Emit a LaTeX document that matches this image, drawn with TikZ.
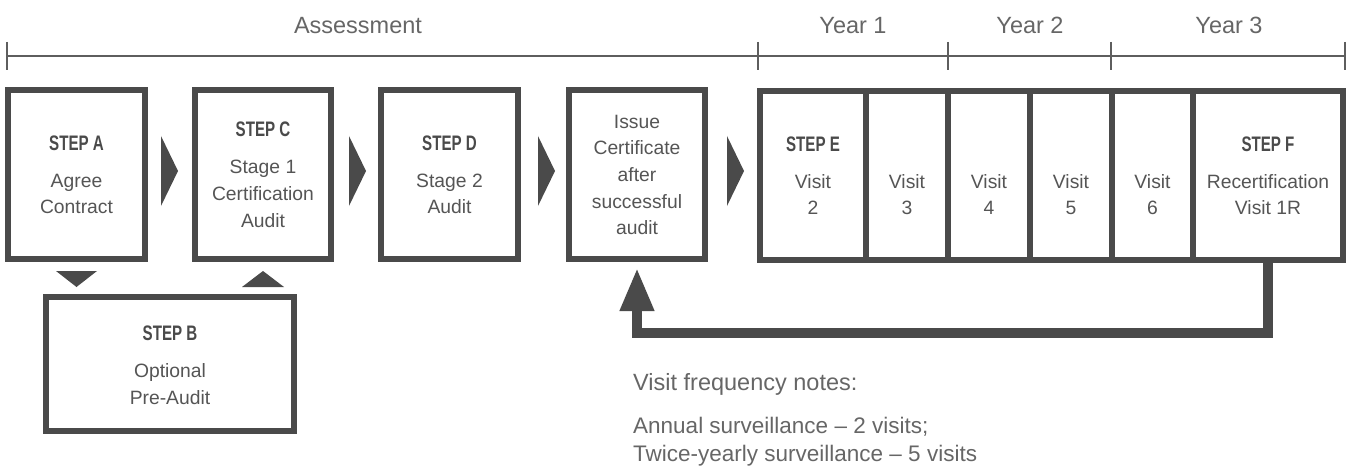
\documentclass[tikz,border=0pt]{standalone}
\usepackage{fontspec}
\setmainfont{Liberation Sans}
\newfontfamily\stepfamily[FakeStretch=0.72]{Liberation Sans}
\usetikzlibrary{arrows.meta,calc}
\definecolor{dg}{HTML}{4A4A4A}
\definecolor{tg}{HTML}{555555}
\definecolor{hg}{HTML}{666666}
\definecolor{lg}{HTML}{5E5E5E}
\newcommand\bodyf{\fontsize{19.3}{23}\selectfont}
\newcommand\stepf{\stepfamily\bfseries\fontsize{21}{25}\selectfont}
\newcommand\headf{\fontsize{23.5}{28}\selectfont}
\newcommand\notef{\fontsize{22.5}{28}\selectfont}
\tikzset{
  box/.style={draw=dg, line width=6pt, fill=white, inner sep=0pt, outer sep=0pt, rectangle},
  lbl/.style={text=tg, font=\bodyf, anchor=base, inner sep=0pt},
  steplbl/.style={text=dg, font=\stepf, anchor=base, inner sep=0pt},
  headlbl/.style={text=hg, font=\headf, anchor=base, inner sep=0pt},
  notelbl/.style={text=hg, font=\notef, anchor=base west, inner sep=0pt},
  tl/.style={draw=lg, line width=2pt},
  chevron/.style={fill=dg, draw=none},
  ret/.style={draw=dg, line width=10pt, line join=miter, -{Triangle[length=43pt,width=32pt]}},
}
\begin{document}
\begin{tikzpicture}[x=1pt,y=-1pt]
\useasboundingbox (0,0) rectangle (1352,468);

% timeline
\draw[tl] (7,56) -- (1345,56);
\foreach \t in {7,758,948,1111,1345} \draw[tl] (\t,42) -- (\t,70);
\node[headlbl] (hAss) at (358,34) {Assessment};
\node[headlbl] (hY1) at (853,34) {Year 1};
\node[headlbl] (hY2) at (1030,34) {Year 2};
\node[headlbl] (hY3) at (1229,34) {Year 3};

% main boxes
\node[box, minimum width=137pt, minimum height=169pt] (A) at (76.5,174.5) {};
\node[box, minimum width=136pt, minimum height=169pt] (C) at (263,174.5) {};
\node[box, minimum width=137pt, minimum height=169pt] (D) at (449.5,174.5) {};
\node[box, minimum width=136pt, minimum height=169pt] (I) at (637,174.5) {};
\node[box, minimum width=248pt, minimum height=134pt] (B) at (170,364) {};

% visit columns
\node[box, minimum width=106pt, minimum height=169pt] (E) at (813,175.5) {};
\node[box, minimum width=82pt, minimum height=169pt] (V3) at (907,175.5) {};
\node[box, minimum width=82pt, minimum height=169pt] (V4) at (989,175.5) {};
\node[box, minimum width=82pt, minimum height=169pt] (V5) at (1071,175.5) {};
\node[box, minimum width=81pt, minimum height=169pt] (V6) at (1152.5,175.5) {};
\node[box, minimum width=150pt, minimum height=169pt] (F) at (1268,175.5) {};
\draw[draw=dg, line width=6pt] (E.north west) rectangle (F.south east);

% chevrons
\fill[chevron] (161,136) -- (178,171) -- (161,206) -- cycle;
\fill[chevron] (349,136) -- (366,171) -- (349,206) -- cycle;
\fill[chevron] (538,136) -- (555,171) -- (538,206) -- cycle;
\fill[chevron] (727,136) -- (744,171) -- (727,206) -- cycle;
\fill[chevron] (56,271) -- (97,271) -- (76.5,287) -- cycle;
\fill[chevron] (242,287) -- (284,287) -- (263,271) -- cycle;

% texts
\node[steplbl] (A0) at (76.5,150) {STEP A};
\node[lbl] (A1) at (76.5,187) {Agree};
\node[lbl] (A2) at (76.5,213) {Contract};

\node[steplbl] (C0) at (263,137) {STEP C};
\node[lbl] (C1) at (263,174) {Stage 1};
\node[lbl] (C2) at (263,200) {Certification};
\node[lbl] (C3) at (263,227) {Audit};

\node[steplbl] (D0) at (449.5,150) {STEP D};
\node[lbl] (D1) at (449.5,187) {Stage 2};
\node[lbl] (D2) at (449.5,213) {Audit};

\node[lbl] (I1) at (637,129) {Issue};
\node[lbl] (I2) at (637,155) {Certificate};
\node[lbl] (I3) at (637,181.5) {after};
\node[lbl] (I4) at (637,208) {successful};
\node[lbl] (I5) at (637,234) {audit};

\node[steplbl] (B0) at (170,340) {STEP B};
\node[lbl] (B1) at (170,377) {Optional};
\node[lbl] (B2) at (170,404) {Pre-Audit};

\node[steplbl] (E0) at (813,151) {STEP E};
\node[lbl] (E1) at (813,188) {Visit};
\node[lbl] (E2) at (813,214) {2};
\node[lbl] (V3a) at (907,188) {Visit};
\node[lbl] (V3b) at (907,214) {3};
\node[lbl] (V4a) at (989,188) {Visit};
\node[lbl] (V4b) at (989,214) {4};
\node[lbl] (V5a) at (1071,188) {Visit};
\node[lbl] (V5b) at (1071,214) {5};
\node[lbl] (V6a) at (1152.5,188) {Visit};
\node[lbl] (V6b) at (1152.5,214) {6};
\node[steplbl] (F0) at (1268,151) {STEP F};
\node[lbl] (F1) at (1268,188) {Recertification};
\node[lbl] (F2) at (1268,214) {Visit 1R};

% return connector
\coordinate (rettip) at ($(I.south)+(0,9)$);
\draw[ret] (F.south) -- ++(0,73) -| (rettip);

% notes
\node[notelbl, font=\headf] (N0) at (633,390) {Visit frequency notes:};
\node[notelbl] (N1) at (633,433) {Annual surveillance – 2 visits;};
\node[notelbl] (N2) at (633,461) {Twice-yearly surveillance – 5 visits};
\end{tikzpicture}
\end{document}
